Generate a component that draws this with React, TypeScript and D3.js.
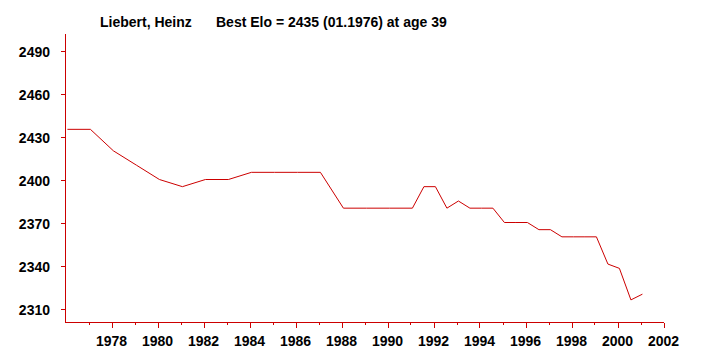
import * as d3 from "d3";

// rating lists (month.year) and Elo values
const dates = [
  "01.1976", "01.1977", "01.1978", "01.1979", "01.1980", "01.1981",
  "01.1982", "01.1983", "01.1984", "01.1985", "01.1986", "01.1987",
  "01.1988", "01.1989", "01.1990", "01.1991", "07.1991", "01.1992",
  "07.1992", "01.1993", "07.1993", "01.1994", "07.1994", "01.1995",
  "07.1995", "01.1996", "07.1996", "01.1997", "07.1997", "01.1998",
  "07.1998", "01.1999", "07.1999", "01.2000", "07.2000", "01.2001",
];
const elo = [
  2435, 2435, 2420, 2410, 2400, 2395,
  2400, 2400, 2405, 2405, 2405, 2405,
  2380, 2380, 2380, 2380, 2395, 2395,
  2380, 2385, 2380, 2380, 2380, 2370,
  2370, 2370, 2365, 2365, 2360, 2360,
  2360, 2360, 2341, 2338, 2316, 2320,
];
const yTicks = [2310, 2340, 2370, 2400, 2430, 2460, 2490];
const xLabels = [1978, 1980, 1982, 1984, 1986, 1988, 1990, 1992, 1994, 1996, 1998, 2000, 2002];
const xMinor = [1977, 1979, 1981, 1983, 1985, 1987, 1989, 1991, 1993, 1995, 1997, 1999, 2001];

const playerName = "Liebert, Heinz";
const bestText = "Best Elo = 2435 (01.1976) at age 39";

const RED = "#cc0000";
const FONT = "'Liberation Sans', Arial, sans-serif";

function toYear(d: string) {
  const [m, y] = d.split(".").map(Number);
  return y + m / 12;
}

export default function App() {
  const width = 720;
  const height = 360;

  const x = d3.scaleLinear().domain([1976, 2002]).range([65.5, 663.5]);
  const y = d3.scaleLinear().domain([2310, 2490]).range([308.5, 50.5]);

  const bottom = 322.5;
  const left = 65.5;

  const points = dates.map((d, i) => ({ t: toYear(d), v: elo[i] }));
  const line = d3
    .line<{ t: number; v: number }>()
    .x((d) => x(d.t))
    .y((d) => y(d.v));

  return (
    <svg
      width={width}
      height={height}
      style={{ position: "absolute", left: 0, top: 0, background: "#fff" }}
      fontFamily={FONT}
      fontWeight="bold"
      fontSize={14}
    >
      <rect width={width} height={height} fill="#fff" />

      {/* title */}
      <text x={100} y={27} fill="#000">{playerName}</text>
      <text x={216} y={27} fill="#000">{bestText}</text>

      {/* y axis */}
      <line x1={left} x2={left} y1={34} y2={bottom} stroke={RED} shapeRendering="crispEdges" />
      {yTicks.map((t) => (
        <g key={t}>
          <line
            x1={left - 5}
            x2={left}
            y1={Math.round(y(t)) + 0.5}
            y2={Math.round(y(t)) + 0.5}
            stroke={RED}
            shapeRendering="crispEdges"
          />
          <text x={50} y={y(t) + 6.5} textAnchor="end" fill="#000">
            {t}
          </text>
        </g>
      ))}

      {/* x axis */}
      <line x1={left} x2={x(2002)} y1={bottom} y2={bottom} stroke={RED} shapeRendering="crispEdges" />
      {xMinor.map((t) => (
        <line
          key={t}
          x1={Math.round(x(t)) + 0.5}
          x2={Math.round(x(t)) + 0.5}
          y1={bottom}
          y2={bottom + 2}
          stroke={RED}
          shapeRendering="crispEdges"
        />
      ))}
      {xLabels.map((t) => (
        <g key={t}>
          <line
            x1={Math.round(x(t)) + 0.5}
            x2={Math.round(x(t)) + 0.5}
            y1={bottom}
            y2={bottom + 5}
            stroke={RED}
            shapeRendering="crispEdges"
          />
          <text x={x(t)} y={345.5} textAnchor="middle" fill="#000">
            {t}
          </text>
        </g>
      ))}

      {/* rating line */}
      <path d={line(points) ?? ""} fill="none" stroke={RED} strokeWidth={1} />
    </svg>
  );
}
